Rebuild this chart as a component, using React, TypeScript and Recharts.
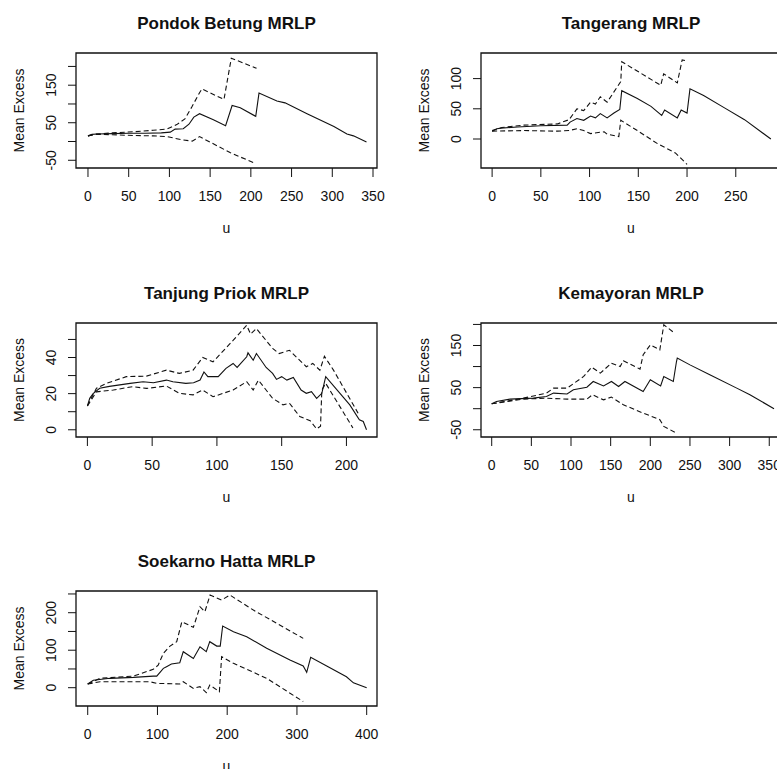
import React from "react";
import { LineChart, Line, XAxis, YAxis, ReferenceArea } from "recharts";

type Pt = [number, number];

// Pondok Betung: mean excess and the two confidence bounds, as [u, value]
const pondokMean: Pt[] = [[0, 15], [5, 19], [11, 20], [30, 21], [50, 22], [70, 22], [90, 23], [101, 25], [107, 33], [117, 34], [124, 46], [130, 65], [137, 74], [154, 58], [169, 42], [177, 96], [187, 90], [206, 67], [210, 129], [232, 108], [242, 103], [269, 74], [302, 40], [318, 20], [326, 15], [342, -1]];
const pondokUpper: Pt[] = [[0, 15], [10, 20], [30, 23], [56, 26], [80, 30], [97, 33], [109, 45], [119, 60], [128, 94], [137, 130], [140, 140], [167, 112], [176, 222], [207, 195]];
const pondokLower: Pt[] = [[0, 15], [10, 19], [30, 18], [56, 16], [80, 15], [97, 13], [117, 4], [128, 1], [137, 13], [175, -30], [206, -59]];

// Tangerang
const tangerangMean: Pt[] = [[0, 13], [5, 17], [9, 18], [26, 20], [50, 22], [77, 23], [80, 28], [87, 34], [94, 31], [101, 38], [106, 35], [111, 42], [118, 35], [125, 43], [131, 49], [133, 80], [149, 67], [163, 54], [174, 39], [177, 48], [190, 35], [194, 48], [200, 43], [203, 83], [217, 72], [238, 52], [259, 32], [286, 0]];
const tangerangUpper: Pt[] = [[0, 14], [10, 19], [32, 23], [67, 25], [79, 32], [87, 50], [94, 47], [101, 61], [106, 58], [111, 70], [118, 61], [125, 78], [132, 95], [133, 128], [173, 89], [176, 108], [190, 93], [195, 131], [200, 129]];
const tangerangLower: Pt[] = [[0, 13], [32, 14], [67, 13], [79, 14], [87, 17], [94, 14], [101, 9], [115, 12], [118, 8], [130, 4], [132, 31], [149, 14], [170, -8], [188, -23], [200, -42]];

// Tanjung Priok
const priokMean: Pt[] = [[0, 13.2], [1.8, 17.4], [4.4, 20], [9.5, 23], [17, 24], [33, 25.7], [43, 26.6], [51, 26], [61, 27.5], [66, 26.6], [76, 25.7], [82, 26], [87, 27.5], [90, 32], [93, 29.4], [101, 29.4], [107, 34], [112.5, 36.7], [115.6, 34.5], [123, 40.4], [124, 42.6], [128, 38.5], [130.5, 42.2], [138, 34.5], [143, 31.2], [146, 27.9], [150, 29.4], [154, 27.5], [159, 29], [165, 22], [169, 20.2], [173, 21.1], [177, 17.4], [181, 20.2], [184, 29.4], [202.6, 13.8], [210, 5.5], [213, 4.6], [215.5, 0]];
const priokUpper: Pt[] = [[0, 13.2], [7, 23], [14.7, 25.7], [30, 29.4], [45.6, 29.7], [61, 33], [71, 31.2], [81.6, 33], [89, 40], [97, 37.6], [112.5, 49.5], [123, 57.8], [126, 53], [130.5, 56], [143, 45], [148, 42.2], [156, 44], [169, 34.9], [174, 36.7], [179.5, 33], [183, 40.7], [190, 33], [209, 9.2]];
const priokLower: Pt[] = [[0, 13.2], [7, 21], [20, 22], [35, 23.9], [45.6, 22.9], [61, 24.2], [71, 20.2], [81.6, 19.3], [89, 22], [97, 18.3], [112.5, 22], [123, 26.6], [128, 22], [132, 27.5], [143, 17.4], [151, 13.8], [156, 14.7], [164, 7.3], [172, 5], [177, 0.5], [180, 2], [181, 22], [184, 25.7], [205, 1]];

// Kemayoran
const kemayoranMean: Pt[] = [[0, 11.6], [6, 17], [23, 22.7], [52.5, 25], [69, 29], [78, 37], [95, 35], [103, 45], [120, 51], [128, 64.6], [141, 54], [151, 64.6], [160, 52.7], [168, 64.6], [191, 41], [200, 68.6], [213, 54], [217, 76.5], [229, 64.6], [233, 112], [234, 120], [250, 104], [275, 80.4], [309, 48.8], [325.6, 33], [356, 0]];
const kemayoranUpper: Pt[] = [[0, 11.6], [40, 25], [69, 37], [78, 48.8], [95, 48.8], [116, 76.5], [126, 98.6], [137, 84.4], [151, 108], [162, 100], [166, 114], [187, 94], [191, 128], [200, 151.5], [212, 139.6], [217, 199], [231, 179]];
const kemayoranLower: Pt[] = [[0, 11.6], [40, 22.7], [69, 25], [95, 22.7], [120, 22.7], [127, 33], [141, 21], [151, 27.5], [166, 9.3], [191, -10.5], [212, -26], [217, -42], [231, -56]];

// Soekarno Hatta
const hattaMean: Pt[] = [[0, 9.8], [8, 20], [32, 25], [65.5, 27.6], [94, 31], [99, 31], [108.5, 51.6], [113, 56], [120, 63], [132, 66.7], [137, 96], [151.5, 78], [161, 109], [170, 96], [175, 122.7], [185, 111], [190, 111], [193.5, 164.5], [209, 149], [228, 136], [256.6, 105], [290, 74], [309, 57.8], [314, 41], [319.7, 81], [342.7, 57.8], [371, 29], [381, 13], [400, 0]];
const hattaUpper: Pt[] = [[0, 9.8], [17.7, 25], [65.5, 31], [94, 49], [101, 60], [108.5, 91.6], [118, 111], [127.6, 122.7], [135, 176], [151.5, 161], [161, 216], [168, 202.7], [175.4, 247], [192, 233.8], [204, 247], [237.5, 207], [309, 131.6]];
const hattaLower: Pt[] = [[0, 9.8], [17.7, 16], [65.5, 16], [89, 16], [99, 11.6], [132, 9.8], [137, 16], [151.5, -1.8], [161, 2.7], [170, -13], [175, 7], [188.8, -10.7], [192, 82.7], [209, 65], [256.6, 25], [309, -37]];

// axis ticks, and the ones R kept a label for
const pondokXTicks = [0, 50, 100, 150, 200, 250, 300, 350];
const pondokYTicks = [-50, 0, 50, 100, 150, 200];
const pondokYLabels = [-50, 50, 150];
const tangerangXTicks = [0, 50, 100, 150, 200, 250];
const tangerangYTicks = [0, 50, 100];
const priokXTicks = [0, 50, 100, 150, 200];
const priokYTicks = [0, 10, 20, 30, 40, 50];
const priokYLabels = [0, 20, 40];
const kemayoranXTicks = [0, 50, 100, 150, 200, 250, 300, 350];
const kemayoranYTicks = [-50, 0, 50, 100, 150, 200];
const hattaXTicks = [0, 100, 200, 300, 400];
const hattaYTicks = [0, 50, 100, 150, 200, 250];
const hattaYLabels = [0, 100, 200];

const FONT = '"Liberation Sans", Arial, Helvetica, sans-serif';
const INK = "#111";

interface PanelSpec {
  title: string;
  left: number; // chart container left
  width: number;
  boxLeft: number;
  boxRight: number;
  boxTop: number;
  boxBottom: number;
  xDomain: [number, number];
  yDomain: [number, number];
  xTicks: number[];
  yTicks: number[];
  yLabels: number[];
  mean: Pt[];
  upper: Pt[];
  lower: Pt[];
}

const panels: PanelSpec[] = [
  {
    title: "Pondok Betung MRLP", left: 0, width: 390, boxLeft: 76, boxRight: 377, boxTop: 53, boxBottom: 168,
    xDomain: [-14.7, 354.9], yDomain: [-70.6, 235.8], xTicks: pondokXTicks, yTicks: pondokYTicks, yLabels: pondokYLabels,
    mean: pondokMean, upper: pondokUpper, lower: pondokLower,
  },
  {
    title: "Tangerang MRLP", left: 400, width: 390, boxLeft: 481, boxRight: 781, boxTop: 53, boxBottom: 168,
    xDomain: [-11.4, 296.4], yDomain: [-48, 142.4], xTicks: tangerangXTicks, yTicks: tangerangYTicks, yLabels: tangerangYTicks,
    mean: tangerangMean, upper: tangerangUpper, lower: tangerangLower,
  },
  {
    title: "Tanjung Priok MRLP", left: 0, width: 390, boxLeft: 76, boxRight: 377, boxTop: 323, boxBottom: 437,
    xDomain: [-8.8, 223.6], yDomain: [-4, 59.1], xTicks: priokXTicks, yTicks: priokYTicks, yLabels: priokYLabels,
    mean: priokMean, upper: priokUpper, lower: priokLower,
  },
  {
    title: "Kemayoran MRLP", left: 400, width: 390, boxLeft: 481, boxRight: 781, boxTop: 323, boxBottom: 437,
    xDomain: [-13.5, 364.8], yDomain: [-67.2, 203.4], xTicks: kemayoranXTicks, yTicks: kemayoranYTicks, yLabels: pondokYLabels,
    mean: kemayoranMean, upper: kemayoranUpper, lower: kemayoranLower,
  },
  {
    title: "Soekarno Hatta MRLP", left: 0, width: 390, boxLeft: 76, boxRight: 377, boxTop: 591, boxBottom: 706,
    xDomain: [-16.8, 414.8], yDomain: [-48.8, 257.9], xTicks: hattaXTicks, yTicks: hattaYTicks, yLabels: hattaYLabels,
    mean: hattaMean, upper: hattaUpper, lower: hattaLower,
  },
];

const toRows = (pts: Pt[]) => pts.map(([u, v]) => ({ u, v }));

const XTick = (props: any) => (
  <text x={props.x} y={props.y + 23.5} textAnchor="middle" fontSize={14} fill={INK} fontFamily={FONT}>
    {props.payload.value}
  </text>
);

const makeYTick = (labels: number[]) => (props: any) =>
  labels.includes(props.payload.value) ? (
    <text
      transform={`translate(${props.x - 12},${props.y}) rotate(-90)`}
      textAnchor="middle"
      fontSize={14}
      fill={INK}
      fontFamily={FONT}
    >
      {props.payload.value}
    </text>
  ) : (
    <g />
  );

const AXIS_H = 50;

const Panel = ({ p }: { p: PanelSpec }) => {
  const top = p.boxTop - 53;
  const height = p.boxBottom - top + AXIS_H;
  return (
    <div style={{ position: "absolute", left: p.left, top }}>
      <LineChart
        width={p.width}
        height={height}
        margin={{ top: p.boxTop - top, right: p.left + p.width - p.boxRight, bottom: 0, left: 0 }}
      >
        <XAxis
          type="number"
          dataKey="u"
          domain={p.xDomain}
          allowDataOverflow
          ticks={p.xTicks}
          interval={0}
          tickSize={9}
          tickMargin={0}
          axisLine={false}
          tickLine={{ stroke: INK }}
          tick={XTick}
          height={AXIS_H}
        />
        <YAxis
          type="number"
          domain={p.yDomain}
          allowDataOverflow
          ticks={p.yTicks}
          interval={0}
          tickSize={8}
          tickMargin={0}
          axisLine={false}
          tickLine={{ stroke: INK }}
          tick={makeYTick(p.yLabels)}
          width={p.boxLeft - p.left}
        />
        <ReferenceArea
          x1={p.xDomain[0]}
          x2={p.xDomain[1]}
          y1={p.yDomain[0]}
          y2={p.yDomain[1]}
          fill="none"
          fillOpacity={0}
          stroke={INK}
          strokeWidth={1.3}
          ifOverflow="visible"
        />
        <Line data={toRows(p.upper)} dataKey="v" type="linear" stroke={INK} strokeWidth={1.1} strokeDasharray="5 3" dot={false} isAnimationActive={false} />
        <Line data={toRows(p.lower)} dataKey="v" type="linear" stroke={INK} strokeWidth={1.1} strokeDasharray="5 3" dot={false} isAnimationActive={false} />
        <Line data={toRows(p.mean)} dataKey="v" type="linear" stroke={INK} strokeWidth={1.1} dot={false} isAnimationActive={false} />
      </LineChart>
    </div>
  );
};

export default function App() {
  return (
    <div
      style={{
        position: "absolute",
        left: 0,
        top: 0,
        width: 777,
        height: 769,
        overflow: "hidden",
        background: "#fff",
        fontFamily: FONT,
      }}
    >
      {panels.map((p) => (
        <Panel key={p.title} p={p} />
      ))}
      <svg
        width={777}
        height={769}
        style={{ position: "absolute", left: 0, top: 0, pointerEvents: "none" }}
        fontFamily={FONT}
        fill={INK}
      >
        {panels.map((p) => {
          const cx = (p.boxLeft + p.boxRight) / 2;
          const cy = (p.boxTop + p.boxBottom) / 2;
          return (
            <g key={p.title}>
              <text x={cx} y={p.boxTop - 24.5} textAnchor="middle" fontSize={17} fontWeight="bold">
                {p.title}
              </text>
              <text x={cx} y={p.boxBottom + 64.5} textAnchor="middle" fontSize={14}>
                u
              </text>
              <text transform={`translate(${p.boxLeft - 52},${cy}) rotate(-90)`} textAnchor="middle" fontSize={14}>
                Mean Excess
              </text>
            </g>
          );
        })}
      </svg>
    </div>
  );
}
